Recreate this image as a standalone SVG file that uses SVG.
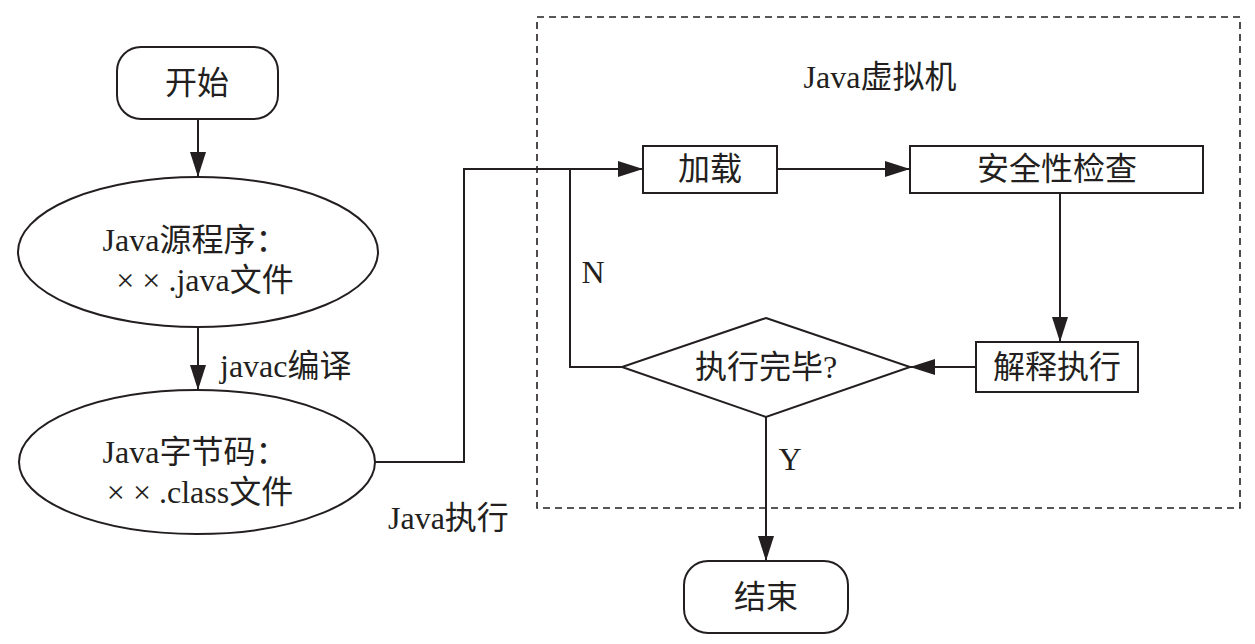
<svg xmlns="http://www.w3.org/2000/svg" width="1255" height="644" viewBox="0 0 1255 644">
<style>
  .shape { fill: #fff; stroke: #231f20; stroke-width: 2; }
  .conn { fill: none; stroke: #231f20; stroke-width: 2; }
  .dash { fill: none; stroke: #231f20; stroke-width: 1.6; stroke-dasharray: 7 5; }
  text { font-family: "Liberation Serif", "Noto Sans CJK SC", serif; font-size: 32px; fill: #231f20; dominant-baseline: central; }
  .c { text-anchor: middle; }
</style>
<defs>
  <marker id="arr" markerUnits="userSpaceOnUse" markerWidth="25" markerHeight="16" refX="25" refY="8" orient="auto">
    <path d="M0,0 L25,8 L0,16 z" fill="#231f20"/>
  </marker>
</defs>
<rect x="0" y="0" width="1255" height="644" fill="#fff"/>
<g id="jvm-frame">
  <rect class="dash" x="537" y="17" width="703" height="491"/>
  <text class="c" x="880" y="77">Java虚拟机</text>
</g>
<g id="connectors">
  <path class="conn" d="M198,119 V177" marker-end="url(#arr)"/>
  <path class="conn" d="M198,328 V390" marker-end="url(#arr)"/>
  <path class="conn" d="M375,462 H464 V169 H643" marker-end="url(#arr)"/>
  <path class="conn" d="M777,169 H910" marker-end="url(#arr)"/>
  <path class="conn" d="M1060,193 V342" marker-end="url(#arr)"/>
  <path class="conn" d="M976,367 H910" marker-end="url(#arr)"/>
  <path class="conn" d="M622,367 H570 V169"/>
  <path class="conn" d="M766,417 V561" marker-end="url(#arr)"/>
  <text x="220" y="366">javac编译</text>
  <text x="388" y="518">Java执行</text>
  <text class="c" x="593" y="272">N</text>
  <text class="c" x="790" y="459">Y</text>
</g>
<g id="start">
  <rect class="shape" x="117" y="47" width="161" height="72" rx="24"/>
  <text class="c" x="197" y="83">开始</text>
</g>
<g id="source">
  <ellipse class="shape" cx="198" cy="252" rx="180" ry="75"/>
  <text class="c" x="195" y="240">Java源程序：</text>
  <text class="c" x="205" y="280">× × .java文件</text>
</g>
<g id="bytecode">
  <ellipse class="shape" cx="197" cy="462" rx="178" ry="72"/>
  <text class="c" x="195" y="452">Java字节码：</text>
  <text class="c" x="200" y="492">× × .class文件</text>
</g>
<g id="load">
  <rect class="shape" x="643" y="146" width="134" height="47"/>
  <text class="c" x="710" y="169">加载</text>
</g>
<g id="check">
  <rect class="shape" x="910" y="146" width="293" height="47"/>
  <text class="c" x="1057" y="169">安全性检查</text>
</g>
<g id="interpret">
  <rect class="shape" x="976" y="342" width="162" height="50"/>
  <text class="c" x="1057" y="367">解释执行</text>
</g>
<g id="decision">
  <polygon class="shape" points="766,318 910,367 766,417 622,367"/>
  <text class="c" x="766" y="367">执行完毕?</text>
</g>
<g id="end">
  <rect class="shape" x="684" y="561" width="164" height="72" rx="24"/>
  <text class="c" x="766" y="597">结束</text>
</g>
</svg>
